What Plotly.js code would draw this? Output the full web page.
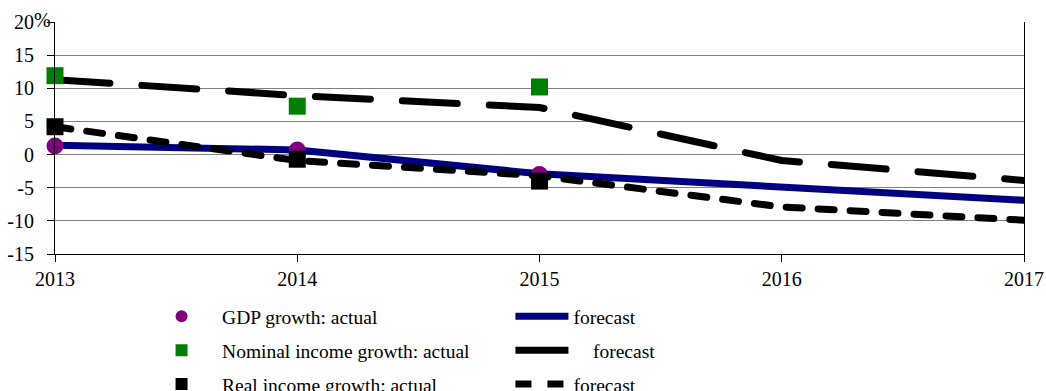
<!DOCTYPE html>
<html>
<head>
<meta charset="utf-8">
<script src="https://cdn.plot.ly/plotly-3.0.1.min.js"></script>
<style>
html,body{margin:0;padding:0;background:#fff;}
#chart{width:1046px;height:391px;}
.scatterlayer path.js-line, .legend path.js-line{stroke-linecap:round;}
</style>
</head>
<body>
<div id="chart"></div>
<script>
// Data
const years = [2013, 2014, 2015, 2016, 2017];
const actualYears = [2013, 2014, 2015];

const gdpActual = [1.3, 0.7, -3.0];
const nominalActual = [11.9, 7.3, 10.2];
const realActual = [4.2, -0.7, -4.0];

const gdpForecast = [1.4, 0.7, -2.9, -4.9, -6.9];
const nominalForecast = [11.3, 8.9, 7.1, -0.9, -3.9];
const realForecast = [4.2, -0.9, -3.2, -7.9, -9.9];

const yTicks = [-15, -10, -5, 0, 5, 10, 15, 20];

const FONT = "Times New Roman, Liberation Serif, DejaVu Serif, serif";

const traces = [
  {x: years, y: gdpForecast, type: 'scatter', mode: 'lines', name: 'forecast', cliponaxis: false,
   line: {color: '#000080', width: 7}, legend: 'legend2', legendgroup: 'g1'},
  {x: years, y: nominalForecast, type: 'scatter', mode: 'lines', name: '\u00a0\u00a0\u00a0\u00a0forecast', cliponaxis: false,
   line: {color: '#000000', width: 7, dash: '55px,32px'}, legend: 'legend2', legendgroup: 'g2'},
  {x: years, y: realForecast, type: 'scatter', mode: 'lines', name: 'forecast', cliponaxis: false,
   line: {color: '#000000', width: 7, dash: '16px,16px'}, legend: 'legend2', legendgroup: 'g3'},
  {x: actualYears, y: gdpActual, type: 'scatter', mode: 'markers', name: 'GDP growth: actual', cliponaxis: false,
   marker: {color: '#800080', size: 17, symbol: 'circle'}, legend: 'legend', legendgroup: 'a1'},
  {x: actualYears, y: nominalActual, type: 'scatter', mode: 'markers', name: 'Nominal income growth: actual', cliponaxis: false,
   marker: {color: '#008000', size: 17, symbol: 'square'}, legend: 'legend', legendgroup: 'a2'},
  {x: actualYears, y: realActual, type: 'scatter', mode: 'markers', name: 'Real income growth: actual', cliponaxis: false,
   marker: {color: '#000000', size: 17, symbol: 'square'}, legend: 'legend', legendgroup: 'a3'}
];

const layout = {
  width: 1046, height: 391,
  margin: {l: 55, r: 22, t: 22, b: 137, autoexpand: false},
  paper_bgcolor: '#ffffff', plot_bgcolor: '#ffffff',
  font: {family: FONT, size: 19.5, color: '#000'},
  showlegend: true,
  xaxis: {
    range: [2013, 2017], tickvals: years, ticktext: years.map(String),
    showgrid: false, zeroline: false, showline: true, linecolor: '#000', linewidth: 1,
    ticks: 'outside', ticklen: 7, tickcolor: '#000', automargin: false,
    tickfont: {family: FONT, size: 20, color: '#000'}, fixedrange: true
  },
  yaxis: {
    range: [-15, 20], tickvals: yTicks, ticktext: yTicks.map(String),
    showgrid: true, gridcolor: '#808080', gridwidth: 1, zeroline: false,
    showline: true, mirror: true, linecolor: '#000', linewidth: 1,
    ticks: 'outside', ticklen: 7, tickcolor: '#000', automargin: false,
    ticklabelstandoff: 9,
    tickfont: {family: FONT, size: 20, color: '#000'}, fixedrange: true
  },
  legend: {
    x: 0.0888, y: -0.186, xanchor: 'left', yanchor: 'top', orientation: 'v',
    bgcolor: 'rgba(0,0,0,0)', font: {family: FONT, size: 19.5, color: '#000'},
    tracegroupgap: 5.5, traceorder: 'grouped', itemsizing: 'constant', itemwidth: 71
  },
  legend2: {
    x: 0.47, y: -0.186, xanchor: 'left', yanchor: 'top', orientation: 'v',
    bgcolor: 'rgba(0,0,0,0)', font: {family: FONT, size: 19.5, color: '#000'},
    tracegroupgap: 5.5, traceorder: 'grouped', itemwidth: 53
  },
  annotations: [
    {xref: 'paper', yref: 'paper', x: 0, y: 1, xanchor: 'right', yanchor: 'middle',
     xshift: -2, yshift: 2, text: '%', showarrow: false,
     font: {family: FONT, size: 20, color: '#000'}}
  ]
};

Plotly.newPlot('chart', traces, layout, {displayModeBar: false, staticPlot: true});
</script>
</body>
</html>
